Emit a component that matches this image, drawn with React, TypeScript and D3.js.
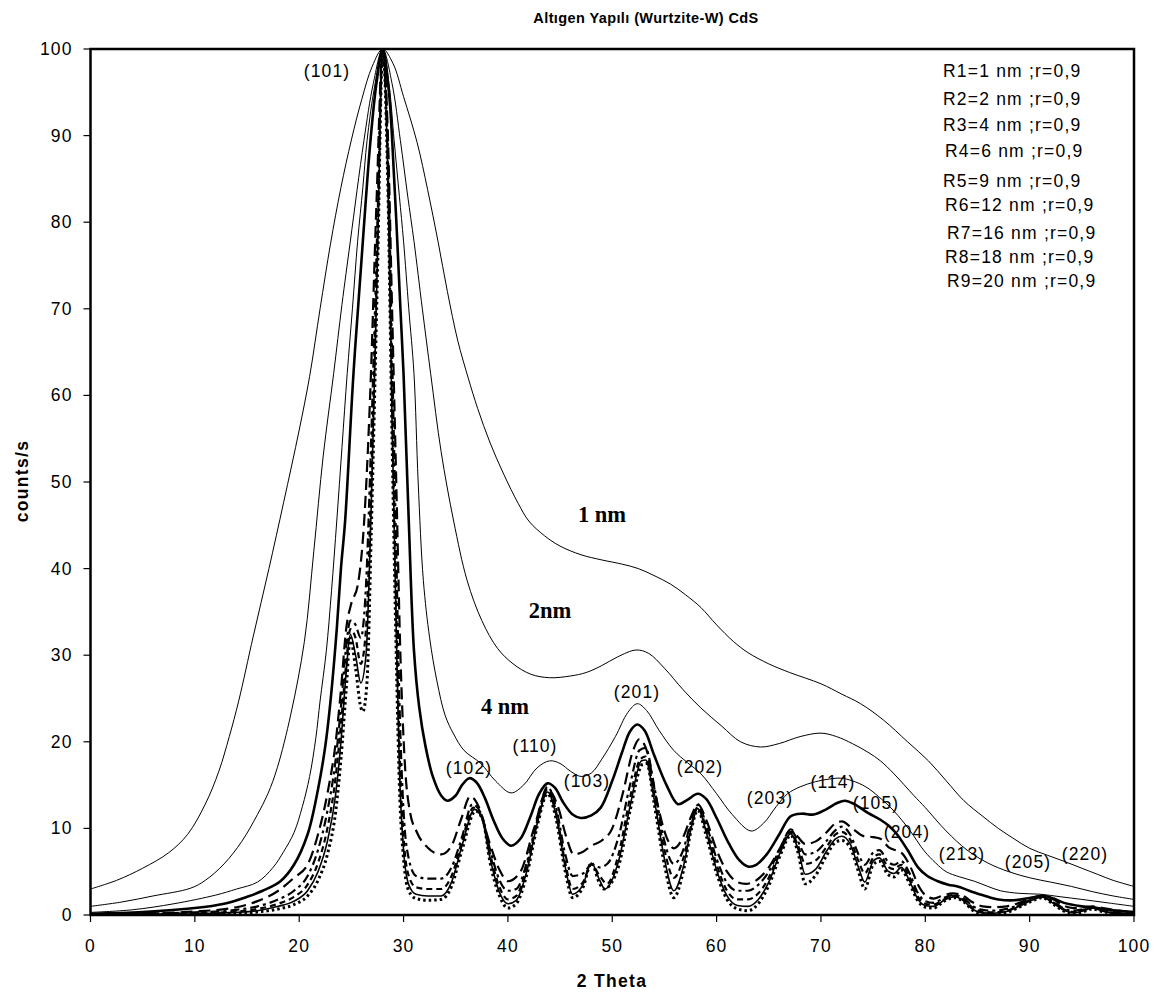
import React from "react";
import * as d3 from "d3";

// ---------- DATA ----------
const X_TICKS = [0, 10, 20, 30, 40, 50, 60, 70, 80, 90, 100];
const Y_TICKS = [0, 10, 20, 30, 40, 50, 60, 70, 80, 90, 100];

const LEGEND_LINES = [
  "R1=1 nm ;r=0,9",
  "R2=2 nm ;r=0,9",
  "R3=4 nm ;r=0,9",
  "R4=6 nm ;r=0,9",
  "R5=9 nm ;r=0,9",
  "R6=12 nm ;r=0,9",
  "R7=16 nm ;r=0,9",
  "R8=18 nm ;r=0,9",
  "R9=20 nm ;r=0,9",
];

const PEAK_LABELS = ["(101)", "(102)", "(110)", "(103)", "(201)", "(202)", "(203)", "(114)", "(105)", "(204)", "(213)", "(205)", "(220)"];
const SIZE_LABELS = ["1 nm", "2nm", "4 nm"];

const R1: [number, number][] = [[0,3.0],[2.5,4.0],[5,5.4],[7.5,7.2],[9.3,9.3],[11,12.8],[12.3,16.6],[13.3,20.6],[14.2,24.7],[15.6,32.2],[17.1,40],[18.5,47.6],[20,56],[21,62.2],[22,70],[23,77.5],[24,84],[25,89.5],[26,94.2],[27,98],[28,100],[29,98.3],[30,94.5],[31.3,89.2],[32.3,83.8],[33.3,77.8],[34.2,72],[35.2,66.3],[36.2,62],[37.1,58.5],[38.3,54.5],[39.6,50.9],[41,47.5],[42,45.5],[43.5,43.8],[45,42.6],[47,41.6],[49,41],[51,40.5],[52.5,40],[54,39.2],[55.6,38.2],[57,37],[58.5,35.5],[60,33.5],[61.6,31.6],[63,30.3],[65,29],[67,28],[70,26.7],[72,25.5],[73.8,24.4],[76,22.5],[78.3,20],[80.3,17.8],[82,15.5],[83.7,13.2],[85.5,11.4],[87,10],[88.5,8.8],[90,7.7],[91.7,6.9],[93.3,6.2],[95,5.4],[96.5,4.7],[98,4.0],[100,3.3]];

const R2: [number, number][] = [[0,1.0],[3,1.5],[6,2.2],[9.6,3.1],[11,4],[12.8,5.9],[14.5,8.5],[16,11.6],[17,14],[17.9,17],[19.2,23.2],[20.5,31.6],[21.4,42],[22.3,53],[23.3,62.5],[24.1,70.5],[24.9,77.8],[26.2,89.4],[27.1,96],[28,100],[28.9,96],[29.7,89.4],[30.4,83],[31,77.8],[31.8,70],[32.6,62.5],[33.6,53.5],[34.8,45.5],[36.1,38.6],[37.5,34],[39,30.8],[40.5,29],[42.2,27.8],[44,27.4],[46,27.6],[47.5,28],[49,28.8],[50.5,29.8],[52.3,30.6],[53.5,30.2],[55,28.5],[56.8,26],[58.5,23.9],[60.5,21.8],[62.3,20],[64.2,19.4],[66,19.8],[68,20.6],[70,21],[71.5,20.6],[73,19.8],[74.5,18.8],[75.7,17.8],[77,16.3],[78.9,13.8],[80,12.4],[82,9.7],[84,7.5],[86,6],[88,5],[90,4.3],[92,3.8],[94,3.3],[96,2.7],[98,2.2],[100,1.8]];

const R3: [number, number][] = [[0,0.3],[4,0.6],[8,1.3],[12,2.3],[14,3],[16,3.8],[17.5,5.5],[18.5,7.3],[19.5,9.5],[20.3,12.5],[21,16],[21.6,20.5],[22,24.7],[22.6,30.5],[23.1,37.5],[23.6,45.5],[24.1,54],[24.6,62.5],[25.1,70],[25.6,77.8],[26.1,84],[26.5,89.4],[27.2,95.5],[28,100],[28.6,96],[29.1,89.4],[29.6,83],[30,77.8],[30.5,70],[31,62.5],[31.4,50],[31.9,38.6],[32.5,32],[33.2,27],[34,23],[34.8,20.9],[35.8,19],[37.4,17.5],[38.8,15.5],[40.3,14.1],[41.5,15],[42.8,17],[44,17.8],[45,17.5],[46,16.6],[47,16],[48,16.4],[49,18],[50.3,20.6],[51.5,23.4],[52.4,24.4],[53.3,23.6],[54.5,21.3],[55.9,19],[57.2,17.6],[58.5,16.3],[60,14],[61.5,11.6],[63.3,9.7],[64.5,10.6],[65.7,12.5],[66.8,14],[68,14.8],[69.5,15.4],[70.8,15.7],[71.9,15.8],[73,15.5],[74.3,14.8],[75.5,13.7],[77,12],[78.5,9.8],[79.9,7.4],[81,6],[82,5],[83.3,4.4],[84.7,3.9],[86,3.3],[87.2,2.8],[89,2.5],[91,2.4],[93,2.1],[95,1.8],[97.5,1.4],[100,1.0]];

const R4: [number, number][] = [[0,0.15],[5,0.35],[10,0.8],[12.8,1.3],[15,2.1],[16.5,2.8],[18.2,3.9],[19.5,5.8],[20.8,9.3],[21.8,14.5],[22.5,19.5],[23,24.7],[23.6,33],[24,40],[24.4,45.5],[25.2,62.5],[26.1,77.8],[26.8,89],[27.4,96],[28,100],[28.6,95],[29.1,85],[29.4,77.8],[29.7,70],[30,62.5],[30.5,45.5],[31,30.5],[31.5,24],[32.1,19.5],[32.8,16],[33.6,13.8],[34.2,13.2],[35,13.8],[35.6,15],[36.3,15.8],[37,15.3],[37.8,13.5],[38.6,11],[39.5,8.8],[40.3,8],[41.2,8.8],[42.2,11.5],[43,14],[43.8,15.2],[44.5,14.7],[45.3,13],[46.2,11.6],[47,11.2],[48,11.5],[48.9,12.4],[50,15.5],[51,19],[51.7,21.2],[52.4,22],[53.1,21.3],[54,18.5],[55.2,15],[56.3,12.8],[57.2,13.3],[58.2,14],[59,13.4],[60,11.2],[61.2,8.2],[62.2,6.3],[63,5.6],[63.8,5.8],[64.8,7],[66,9.3],[67.1,11.4],[68.2,11.7],[69.3,11.6],[70.5,12.2],[71.5,12.9],[72.3,13.2],[73.2,12.8],[74.5,11.8],[75.7,11],[76.5,10.3],[77.3,9.3],[78.3,7.5],[79.3,5.5],[80.2,4.5],[81.2,3.9],[82.2,3.5],[83.1,3.3],[84,2.9],[84.7,2.6],[86,2.1],[87,1.8],[88.5,1.7],[90.1,2.0],[91.4,2.2],[92.3,1.9],[93.3,1.4],[95,1.0],[96.5,0.8],[98,0.55],[100,0.35]];

const R5: [number, number][] = [[0,0.1],[5,0.2],[10,0.4],[14,0.9],[16,1.6],[18,2.8],[19.5,4.3],[20.8,5.8],[21.8,9.3],[22.7,14],[23.5,20],[24,26],[24.5,33],[25,36],[25.6,38],[26.2,45],[26.8,60],[27.4,82],[28,100],[28.5,90],[28.9,70],[29.3,50],[29.7,30],[30.1,18],[30.6,12],[31.3,9.5],[32.3,7.8],[33.6,7.0],[34.6,8],[35.5,11],[36.4,13.7],[37.2,12.5],[38.2,8.5],[39.2,5.2],[40,3.9],[41.2,5],[42.5,10],[43.8,14.5],[44.8,12.5],[45.6,9],[46.3,7.0],[47.2,7.3],[48,8],[49,8.6],[50,10],[51,14],[52,19],[52.6,20.3],[53.3,19],[54.3,13],[55.2,9],[55.9,7.7],[56.8,9],[57.6,11.5],[58.2,12.8],[59,11],[60,7.5],[61,5],[62,3.8],[62.8,3.6],[63.8,4],[65,5.5],[66.2,8],[67.1,9.9],[67.8,9],[68.5,8.2],[69.5,8.5],[70.5,9.5],[71.4,10.6],[72,10.8],[73,10],[74.1,9.1],[75,9],[75.7,8.8],[76.5,7.8],[77.7,7.2],[78.6,5.5],[79.3,3.5],[80,2.3],[80.8,1.9],[81.6,2.2],[82.6,2.5],[83.5,2.3],[84.5,1.5],[85.5,1.0],[86.5,0.9],[87.8,1.0],[89,1.4],[90,1.9],[91.2,2.2],[92.3,1.8],[93.2,1.1],[94.2,0.8],[95.2,0.9],[96,1.0],[97,0.8],[98.5,0.5],[100,0.3]];

const R6: [number, number][] = [[0,0.05],[5,0.15],[10,0.3],[14,0.6],[16,1.0],[18,1.8],[19.5,2.8],[20.8,4.5],[21.8,7.5],[22.7,12],[23.5,18],[24,24],[24.5,31],[24.9,34],[25.4,33.5],[25.9,32],[26.4,38],[26.9,55],[27.5,80],[28,100],[28.5,88],[28.9,65],[29.3,42],[29.6,25],[30,12],[30.5,6.5],[31.2,4.5],[32.3,4.2],[33.6,4.2],[34.6,5.5],[35.6,9],[36.6,12.8],[37.4,11.8],[38.3,7.5],[39.2,4],[40,2.8],[40.8,3],[41.8,6],[42.8,11],[43.8,14.8],[44.6,12.5],[45.5,7],[46.2,4.5],[47.2,4.8],[48,5.8],[48.8,5.5],[49.6,6],[50.6,9],[51.7,15],[52.6,19],[53.2,19.3],[54,15],[55,8.5],[55.9,5.9],[56.8,7.5],[57.6,11],[58.2,12.7],[59,10.5],[60,6.5],[61,3.7],[62,2.8],[63,2.8],[64,3.5],[65,5],[66.2,8],[67.1,9.8],[67.8,8.5],[68.5,7.0],[69.5,7.3],[70.5,8.5],[71.4,9.8],[72,10.2],[72.8,9.3],[73.6,7],[74.2,5.8],[75,7.2],[75.6,7.5],[76.4,6.2],[77,5.8],[77.7,6.2],[78.5,4.8],[79.3,2.5],[80,1.6],[80.8,1.4],[81.8,2],[82.8,2.3],[83.7,1.9],[84.6,1.0],[85.5,0.6],[86.5,0.5],[87.8,0.7],[89,1.2],[90.2,1.9],[91.2,2.1],[92.2,1.6],[93.2,0.8],[94.2,0.5],[95.2,0.7],[96,0.9],[97,0.6],[98.5,0.3],[100,0.2]];

const R7: [number, number][] = [[0,0.03],[5,0.1],[10,0.2],[14,0.4],[16,0.7],[18,1.3],[19.5,2.1],[20.8,3.5],[21.8,6],[22.7,10],[23.5,16],[24,22],[24.5,29],[24.9,33],[25.4,32],[25.9,29],[26.4,33],[26.9,50],[27.5,78],[28,100],[28.5,86],[28.9,60],[29.3,36],[29.6,20],[30,9],[30.5,4.5],[31.2,3.2],[32.3,3],[33.6,3.0],[34.6,4.5],[35.6,8.5],[36.7,12.4],[37.5,11.3],[38.3,7],[39.2,3.2],[40,1.8],[40.8,2.2],[41.8,5.5],[42.8,10.8],[43.8,14.5],[44.6,12],[45.5,6],[46.2,3],[47.2,3.8],[48,5.9],[48.8,4.5],[49.5,3.6],[50.6,7],[51.7,13.5],[52.7,18],[53.2,18.3],[54,14],[55,7.5],[55.9,4.3],[56.8,6.5],[57.6,10.5],[58.2,12.5],[59,10],[60,5.8],[61,2.8],[62,1.8],[63,1.8],[64,2.5],[65,4.3],[66.2,7.8],[67.1,9.6],[67.8,8],[68.5,5.9],[69.5,6.3],[70.5,7.8],[71.4,9.3],[72,9.6],[72.8,8.7],[73.6,6.2],[74.2,4.8],[75,6.6],[75.6,7],[76.4,5.6],[77,5.3],[77.7,5.8],[78.5,4.3],[79.3,2.1],[80,1.3],[80.8,1.2],[81.8,1.8],[82.8,2.2],[83.7,1.7],[84.6,0.8],[85.5,0.4],[86.5,0.3],[87.8,0.5],[89,1.1],[90.2,1.8],[91.2,2.1],[92.2,1.5],[93.2,0.7],[94.2,0.35],[95.2,0.6],[96,0.85],[97,0.5],[98.5,0.2],[100,0.1]];

const R8: [number, number][] = [[0,0.02],[5,0.07],[10,0.15],[14,0.3],[16,0.5],[18,1.0],[19.5,1.6],[20.8,2.8],[21.8,5],[22.7,8.5],[23.5,14],[24,20],[24.5,28],[24.9,32.4],[25.4,30],[25.9,26.8],[26.4,30],[26.9,47],[27.5,76],[28,100],[28.5,85],[28.9,57],[29.3,33],[29.6,17],[30,7.5],[30.5,3.5],[31.2,2.4],[32.3,2.2],[33.6,2.2],[34.6,3.8],[35.6,8],[36.8,12.2],[37.5,11.2],[38.3,6.5],[39.2,2.6],[40,1.3],[40.8,1.7],[41.8,5],[42.8,10.5],[43.8,14.2],[44.6,11.6],[45.5,5.5],[46.2,2.4],[47.2,3.5],[48,6],[48.8,4],[49.3,3],[50.6,6.2],[51.7,12.5],[52.8,17.8],[53.2,17.9],[54,13.5],[55,6.5],[55.9,2.8],[56.8,5.5],[57.6,10.2],[58.2,12.3],[59,9.6],[60,5.2],[61,2.2],[62,1.1],[63,1.0],[64,1.8],[65,3.8],[66.2,7.5],[67.1,9.4],[67.8,7.6],[68.5,4.7],[69.5,5.3],[70.5,7.3],[71.4,8.8],[72,9.1],[72.8,8.2],[73.6,5.5],[74.2,3.8],[75,6.2],[75.6,6.6],[76.4,5.1],[77,4.8],[77.7,5.5],[78.5,3.9],[79.3,1.8],[80,1.1],[80.8,1.0],[81.8,1.7],[82.8,2.1],[83.7,1.6],[84.6,0.6],[85.5,0.25],[86.5,0.2],[87.8,0.4],[89,1.0],[90.2,1.7],[91.2,2.1],[92.2,1.4],[93.2,0.6],[94.2,0.25],[95.2,0.5],[96,0.8],[97,0.45],[98.5,0.15],[100,0.08]];

const R9: [number, number][] = [[0,0.01],[5,0.05],[10,0.1],[14,0.2],[16,0.35],[18,0.7],[19.5,1.2],[20.8,2.2],[21.8,4],[22.7,7],[23.5,12],[24,18],[24.5,26],[24.9,32],[25.4,28.5],[25.9,24],[26.1,23.5],[26.5,27],[26.9,44],[27.5,74],[28,100],[28.5,84],[28.9,55],[29.3,30],[29.6,15],[30,6.5],[30.5,2.8],[31.2,1.9],[32.3,1.7],[33.6,1.8],[34.6,3.3],[35.6,7.5],[36.9,12],[37.6,11],[38.3,6],[39.2,2.2],[40,0.8],[40.8,1.3],[41.8,4.6],[42.8,10.2],[43.8,14],[44.6,11.2],[45.5,5],[46.2,2.0],[47.2,3.2],[48,6],[48.8,3.6],[49.2,3],[50.6,5.6],[51.7,12],[52.9,17.4],[53.3,17.5],[54,13],[55,5.8],[55.9,2.0],[56.8,5],[57.6,10],[58.2,12.1],[59,9.2],[60,4.8],[61,1.8],[62,0.7],[63,0.5],[64,1.3],[65,3.4],[66.2,7.2],[67.1,9.2],[67.8,7.2],[68.5,3.6],[69.5,4.6],[70.5,6.8],[71.4,8.4],[72,8.6],[72.8,7.8],[73.6,5],[74.2,3.0],[75,5.8],[75.6,6.2],[76.4,4.7],[77,4.4],[77.7,5.2],[78.5,3.6],[79.3,1.6],[80,0.9],[80.8,0.8],[81.8,1.6],[82.8,2],[83.7,1.5],[84.6,0.5],[85.5,0.15],[86.5,0.1],[87.8,0.3],[89,0.9],[90.2,1.6],[91.2,2.0],[92.2,1.3],[93.2,0.5],[94.2,0.15],[95.2,0.4],[96,0.7],[97,0.4],[98.5,0.1],[100,0.05]];

const SERIES = [R1, R2, R3, R4, R5, R6, R7, R8, R9];

// ---------- STYLE / LAYOUT ----------
const W = 1168, H = 999;
const PL = 90.5, PR = 1134, PT = 49, PB = 915;
const SANS = "'Liberation Sans', Arial, Helvetica, sans-serif";
const SERIF = "'Liberation Serif', 'Times New Roman', serif";

const STYLES = [
  { w: 1, dash: null, smooth: true },
  { w: 1, dash: null, smooth: true },
  { w: 1, dash: null, smooth: true },
  { w: 2.6, dash: null, smooth: true },
  { w: 2.2, dash: "12,6", smooth: false },
  { w: 2.2, dash: "9,4,3,4", smooth: false },
  { w: 2.2, dash: "6,4", smooth: false },
  { w: 1.6, dash: null, smooth: false },
  { w: 3, dash: "2.5,3", smooth: false },
];

const LEGEND_POS = [
  [943, 71], [943, 99], [943, 125], [945, 151], [943, 181], [945, 205], [947, 233], [945, 257], [947, 281],
];

const PEAK_POS = [
  [327, 71], [469, 768], [535, 746], [587, 781], [637, 692], [700, 767], [770, 798], [833, 782], [876, 803], [907, 832], [962, 854], [1028, 862], [1085, 854],
];
const SIZE_POS = [[602, 514], [550, 610], [505, 706]];

export default function App() {
  const x = d3.scaleLinear().domain([0, 100]).range([PL, PR]);
  const y = d3.scaleLinear().domain([0, 100]).range([PB, PT]);
  const smoothLine = d3
    .line<[number, number]>()
    .x((d) => x(d[0]))
    .y((d) => y(d[1]))
    .curve(d3.curveCatmullRom.alpha(0.5));
  const sharpLine = d3
    .line<[number, number]>()
    .x((d) => x(d[0]))
    .y((d) => y(d[1]))
    .curve(d3.curveMonotoneX);

  const order = [8, 7, 6, 5, 4, 3, 2, 1, 0];

  return (
    <svg
      width={W}
      height={H}
      viewBox={`0 0 ${W} ${H}`}
      style={{ position: "absolute", left: 0, top: 0, background: "#fff" }}
    >
      <rect x={0} y={0} width={W} height={H} fill="#fff" />
      <defs>
        <clipPath id="plotclip">
          <rect x={PL} y={PT} width={PR - PL} height={PB - PT} />
        </clipPath>
      </defs>

      {/* title */}
      <text
        x={646}
        y={18}
        textAnchor="middle"
        dominantBaseline="central"
        fontFamily={SANS}
        fontWeight="bold"
        fontSize={14.5}
        letterSpacing={0.4}
      >
        Altıgen Yapılı (Wurtzite-W) CdS
      </text>

      {/* series */}
      <g clipPath="url(#plotclip)">
        {order.map((i) => (
          <path
            key={i}
            d={(STYLES[i].smooth ? smoothLine : sharpLine)(SERIES[i]) || ""}
            fill="none"
            stroke="#000"
            strokeWidth={STYLES[i].w}
            strokeDasharray={STYLES[i].dash || undefined}
            strokeLinejoin="round"
          />
        ))}
      </g>

      {/* axes frame */}
      <rect x={PL} y={PT} width={PR - PL} height={PB - PT} fill="none" stroke="#000" strokeWidth={2.5} />

      {/* y ticks */}
      {Y_TICKS.map((t) => (
        <g key={"y" + t}>
          <line x1={PL - 7} x2={PL} y1={y(t)} y2={y(t)} stroke="#000" strokeWidth={1.2} />
          <text
            x={PL - 18}
            y={y(t)}
            textAnchor="end"
            dominantBaseline="central"
            fontFamily={SANS}
            fontSize={17.5}
            letterSpacing={1.1}
          >
            {t}
          </text>
        </g>
      ))}

      {/* x ticks */}
      {X_TICKS.map((t) => (
        <g key={"x" + t}>
          <line x1={x(t)} x2={x(t)} y1={PB} y2={PB + 7} stroke="#000" strokeWidth={1.2} />
          <text
            x={x(t)}
            y={946}
            textAnchor="middle"
            dominantBaseline="central"
            fontFamily={SANS}
            fontSize={17.5}
            letterSpacing={1.1}
          >
            {t}
          </text>
        </g>
      ))}

      {/* axis titles */}
      <text
        x={612}
        y={981}
        textAnchor="middle"
        dominantBaseline="central"
        fontFamily={SANS}
        fontWeight="bold"
        fontSize={17.5}
        letterSpacing={1.3}
      >
        2 Theta
      </text>
      <text
        transform={`translate(22,481) rotate(-90)`}
        textAnchor="middle"
        dominantBaseline="central"
        fontFamily={SANS}
        fontWeight="bold"
        fontSize={17.5}
        letterSpacing={1.3}
      >
        counts/s
      </text>

      {/* legend text */}
      {LEGEND_LINES.map((s, i) => (
        <text
          key={s}
          x={LEGEND_POS[i][0]}
          y={LEGEND_POS[i][1]}
          dominantBaseline="central"
          fontFamily={SANS}
          fontSize={17.5}
          letterSpacing={1.2}
        >
          {s}
        </text>
      ))}

      {/* peak labels */}
      {PEAK_LABELS.map((s, i) => (
        <text
          key={s}
          x={PEAK_POS[i][0]}
          y={PEAK_POS[i][1]}
          textAnchor="middle"
          dominantBaseline="central"
          fontFamily={SANS}
          fontSize={17.5}
          letterSpacing={1.1}
        >
          {s}
        </text>
      ))}

      {/* size labels */}
      {SIZE_LABELS.map((s, i) => (
        <text
          key={s}
          x={SIZE_POS[i][0]}
          y={SIZE_POS[i][1]}
          textAnchor="middle"
          dominantBaseline="central"
          fontFamily={SERIF}
          fontWeight="bold"
          fontSize={22.5}
        >
          {s}
        </text>
      ))}
    </svg>
  );
}
